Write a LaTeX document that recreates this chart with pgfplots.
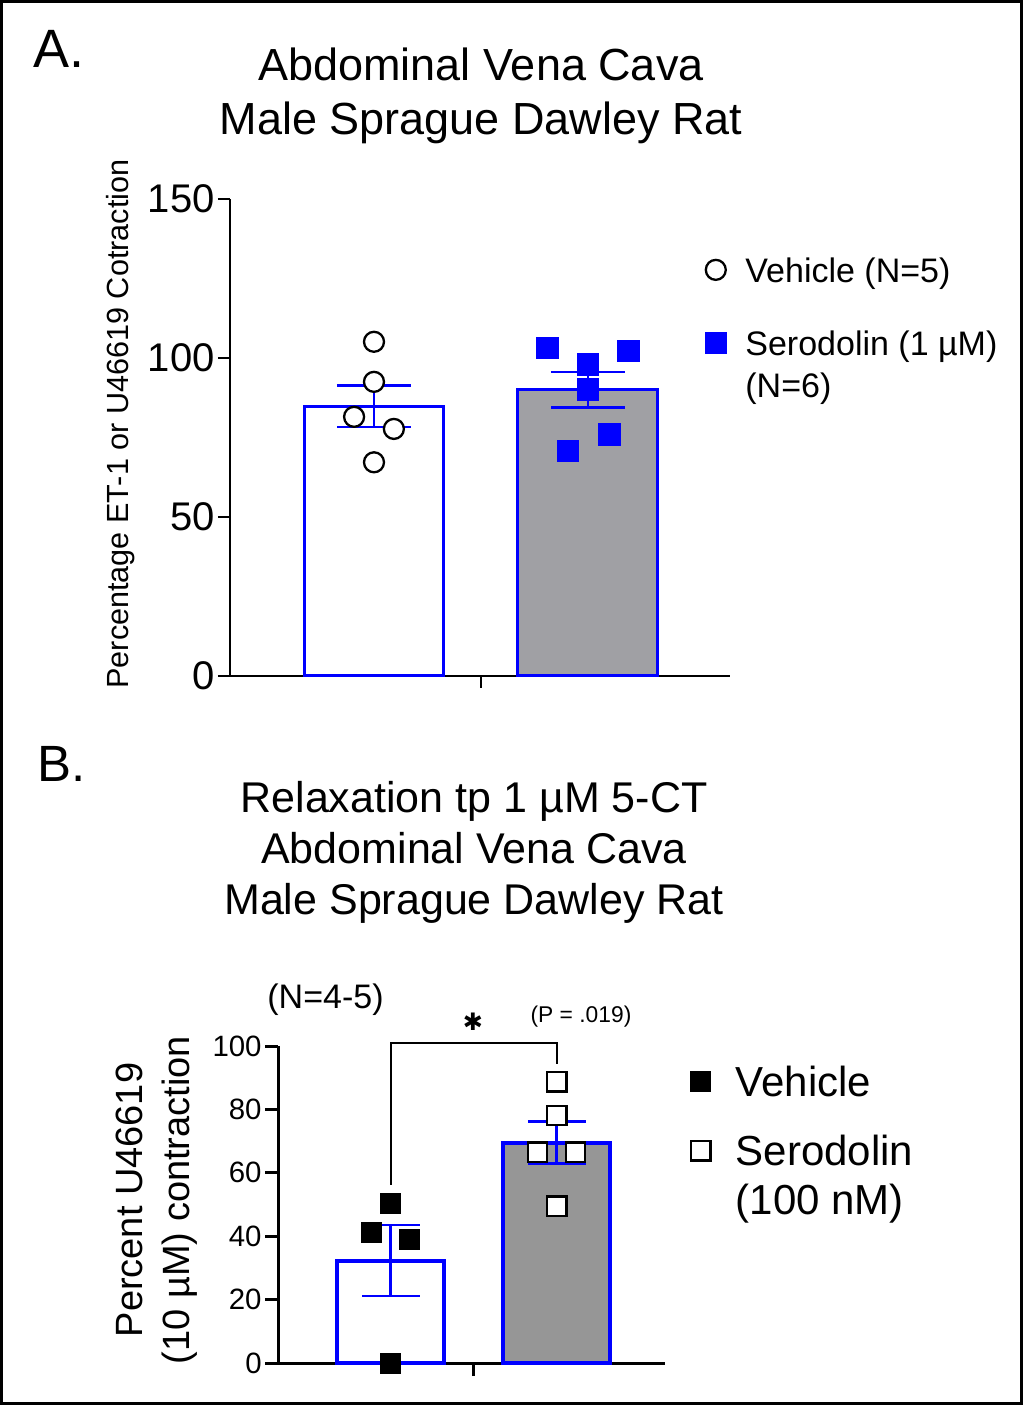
\documentclass[border=0pt]{standalone}
\usepackage{pgfplots}
\pgfplotsset{compat=1.18}
\usepackage{fontspec}
\setmainfont{Liberation Sans}
\newfontfamily\dejavu{DejaVu Sans}
\definecolor{barblue}{RGB}{0,0,255}
\definecolor{greyA}{RGB}{160,160,164}
\definecolor{greyB}{RGB}{150,150,150}
\newcommand{\fs}[2]{\fontsize{#1}{#2}\selectfont}

\pgfplotsset{
  panel/.style={
    scale only axis, axis lines=left, axis line style={-, line width=1.35pt},
    tick align=outside, major tick length=6pt,
    tick style={black, line width=1.35pt},
    enlargelimits=false, clip=false,
    xtick={0.5}, xticklabels={},
    /pgf/number format/assume math mode=true,
    legend cell align=left,
  },
}

\begin{document}
\begin{tikzpicture}
\useasboundingbox (0,0) rectangle (511.5pt,702.5pt);
\draw[line width=1.5pt] (0.75pt,0.75pt) rectangle (510.75pt,701.75pt);

% ---- panel A
\begin{axis}[panel, at={(115pt,364.5pt)}, anchor=south west,
  width=250pt, height=238.5pt,
  xmin=-0.673, xmax=1.664, ymin=0, ymax=150, ytick={0,50,100,150},
  yticklabel style={font=\fs{20}{24}, inner xsep=1.5pt},
  legend image code/.code={\draw[#1] plot coordinates {(0pt,0pt)};},
  legend style={draw=none, fill=none, at={(0.95,0.877)}, anchor=north west,
    inner sep=0pt, outer sep=0pt, font=\fs{17}{21},
    row sep=24.3pt, column sep=9.4pt,
    nodes={inner sep=0pt, text height=12.2pt, text depth=0pt}},
]
\addplot[ybar, bar width=0.654, bar shift=0pt, draw=barblue, fill=white,
  line width=1.5pt, forget plot] coordinates {(0,84.8)};
\addplot[ybar, bar width=0.654, bar shift=0pt, draw=barblue, fill=greyA,
  line width=1.5pt, forget plot] coordinates {(1,90.0)};
\addplot[draw=none, mark=none, forget plot,
  error bars/.cd, y dir=both, y explicit,
  error bar style={draw=barblue, line width=1.2pt},
  error mark options={rotate=90, draw=barblue, line width=1.2pt, mark size=18.5pt}]
  coordinates {(0,84.8) +- (0,6.5) (1,90.0) +- (0,5.6)};
\addplot[only marks, mark=*, mark size=5pt,
  mark options={draw=black, fill=white, line width=1.15pt}]
  coordinates {(0,105.1) (0,92.5) (-0.093,81.5) (0.093,77.7) (0,67.2)};
\addlegendentry{Vehicle (N=5)}
\addplot[only marks, mark=square*, mark size=5.4pt,
  mark options={draw=barblue, fill=barblue, line width=0pt}]
  coordinates {(0.81,103.2) (1,97.9) (1.19,102.2) (1,90.1) (1.10,76.0) (0.907,70.8)};
\addlegendentry{\vtop{\hbox{Serodolin (1 µM)}\hbox{(N=6)}}}
\end{axis}

% ---- panel B
\begin{axis}[panel, at={(139pt,21pt)}, anchor=south west,
  width=193.5pt, height=158.5pt,
  xmin=-0.679, xmax=1.652, ymin=0, ymax=100, ytick={0,20,40,60,80,100},
  axis line style={line width=1.5pt}, tick style={line width=1.5pt},
  major tick length=6.5pt,
  yticklabel style={font=\fs{14.7}{18}, inner xsep=1.5pt},
  legend image code/.code={\draw[#1] plot coordinates {(0pt,0pt)};},
  legend style={draw=none, fill=none, at={(1.067,0.934)}, anchor=north west,
    inner sep=0pt, outer sep=0pt, font=\fs{21}{24.5},
    row sep=19.5pt, column sep=12.4pt,
    nodes={inner sep=0pt, text height=15pt, text depth=0pt}},
]
\addplot[ybar, bar width=0.645, bar shift=0pt, draw=barblue, fill=white,
  line width=2pt, forget plot] coordinates {(0,32.3)};
\addplot[ybar, bar width=0.645, bar shift=0pt, draw=barblue, fill=greyB,
  line width=2pt, forget plot] coordinates {(1,69.5)};
\addplot[draw=none, mark=none, forget plot,
  error bars/.cd, y dir=both, y explicit,
  error bar style={draw=barblue, line width=1.4pt},
  error mark options={rotate=90, draw=barblue, line width=1.3pt, mark size=14.5pt}]
  coordinates {(0,32.3) +- (0,11.2) (1,69.5) +- (0,6.6)};
\addplot[black, line width=1.2pt, forget plot]
  coordinates {(0,56.2) (0,101) (1,101) (1,94.3)};
\addplot[only marks, mark=square*, mark size=5pt,
  mark options={draw=black, fill=black, line width=0pt}]
  coordinates {(0,50.2) (-0.115,41.1) (0.116,39.0) (0,0)};
\addlegendentry{Vehicle}
\addplot[only marks, mark=square*, mark size=4.8pt,
  mark options={draw=black, fill=white, line width=1.15pt}]
  coordinates {(1,88.7) (1,78.0) (0.885,66.5) (1.112,66.5) (1,49.5)};
\addlegendentry{\vtop{\hbox{Serodolin}\hbox{(100 nM)}}}
\end{axis}

% ---- text
\node[anchor=base west, inner sep=0pt, font=\fs{27}{32}] at (16.5pt,668.5pt) {A.};
\node[anchor=base, inner sep=0pt, font=\fs{22.5}{27}] at (240.5pt,662pt) {Abdominal Vena Cava};
\node[anchor=base, inner sep=0pt, font=\fs{22.5}{27}] at (240.5pt,635pt) {Male Sprague Dawley Rat};
\node[rotate=90, inner sep=0pt, font=\fs{15.3}{18}] at (60.5pt,490.5pt) {Percentage ET-1 or U46619 Cotraction};

\node[anchor=base west, inner sep=0pt, font=\fs{25.5}{30}] at (18.5pt,311.5pt) {B.};
\node[anchor=base, inner sep=0pt, font=\fs{21.5}{26}] at (237pt,296pt) {Relaxation tp 1 µM 5-CT};
\node[anchor=base, inner sep=0pt, font=\fs{21.5}{26}] at (237pt,270.5pt) {Abdominal Vena Cava};
\node[anchor=base, inner sep=0pt, font=\fs{21.5}{26}] at (237pt,245pt) {Male Sprague Dawley Rat};
\node[rotate=90, align=center, inner sep=0pt, font=\fs{19}{23.5}] at (78.25pt,102.5pt) {Percent U46619\\(10 µM) contraction};
\node[anchor=base, inner sep=0pt, font=\fs{17}{20}] at (162.75pt,198pt) {(N=4-5)};
\node[anchor=base, inner sep=0pt, font=\fs{11.4}{14}] at (290.5pt,191pt) {(P = .019)};
\node[inner sep=0pt, font=\dejavu\fs{12}{14}] at (236.5pt,191.5pt) {✱};
\end{tikzpicture}
\end{document}
